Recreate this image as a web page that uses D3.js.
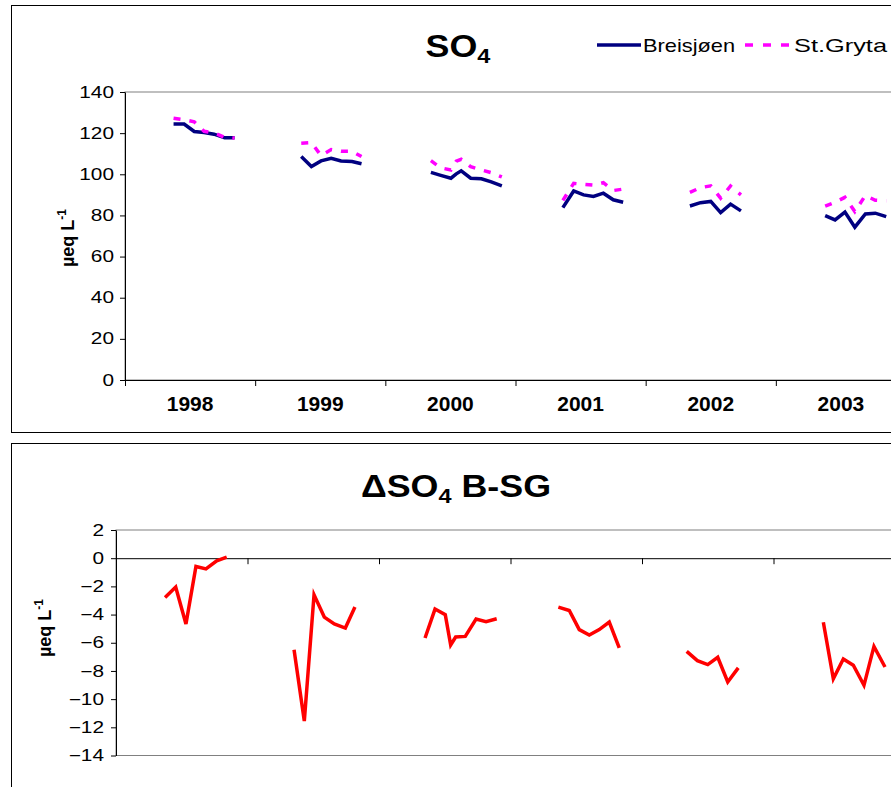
<!DOCTYPE html>
<html>
<head>
<meta charset="utf-8">
<script src="https://cdn.jsdelivr.net/npm/d3@7"></script>
<style>
body { margin: 0; background: #fff; }
svg { display: block; font-family: "Liberation Sans", Arial, sans-serif; }
</style>
</head>
<body>
<div id="chart"></div>
<script>
let years = ["1998", "1999", "2000", "2001", "2002", "2003"];
let sampleDates = [
    1998.373, 1998.454, 1998.532, 1998.608, 1998.684, 1998.766, 1998.842,
    1999.354, 1999.432, 1999.506, 1999.584, 1999.660, 1999.744, 1999.817,
    2000.350, 2000.426, 2000.504, 2000.545, 2000.583, 2000.656, 2000.738, 2000.814, 2000.895,
    2001.364, 2001.447, 2001.523, 2001.599, 2001.675, 2001.751, 2001.827,
    2002.340, 2002.421, 2002.500, 2002.576, 2002.652, 2002.732,
    2003.379, 2003.455, 2003.531, 2003.607, 2003.688, 2003.764, 2003.848
];
let breisjoen = [
    124.4, 124.4, 120.8, 120.3, 119.5, 117.7, 117.7,
    108.6, 103.8, 106.5, 107.8, 106.5, 106.2, 105.1,
    100.9, 99.5, 98.1, 100.2, 101.7, 98.1, 97.8, 96.3, 94.4,
    83.8, 91.9, 90.0, 89.2, 90.8, 87.6, 86.4,
    84.6, 86.2, 86.8, 81.4, 85.5, 82.2,
    79.9, 77.8, 81.6, 74.3, 80.7, 81.1, 79.4
];
let stGryta = [
    127.2, 126.5, 125.5, 120.9, 120.2, 117.9, 117.6,
    115.1, 115.4, 109.1, 112.0, 111.2, 111.2, 108.6,
    106.6, 103.1, 102.1, 106.4, 107.3, 103.7, 102.1, 100.8, 98.7,
    87.3, 95.6, 95.1, 94.7, 95.9, 92.1, 92.8,
    91.2, 93.5, 94.4, 88.4, 94.3, 90.0,
    84.5, 86.4, 88.8, 81.9, 89.7, 87.4, 87.1
];
let deltaSO4 = [
    -2.79, -2.05, -4.67, -0.59, -0.76, -0.19, 0.07,
    -6.49, -11.56, -2.60, -4.18, -4.67, -4.96, -3.47,
    -5.66, -3.61, -4.01, -6.16, -5.59, -5.55, -4.32, -4.51, -4.30,
    -3.47, -3.71, -5.07, -5.45, -5.07, -4.53, -6.37,
    -6.61, -7.27, -7.55, -7.03, -8.78, -7.78,
    -4.55, -8.56, -7.15, -7.60, -9.02, -6.26, -7.72
];
let so4Ticks = [0, 20, 40, 60, 80, 100, 120, 140];
let deltaTicks = [2, 0, -2, -4, -6, -8, -10, -12, -14];

let svgWidth = 891;
let svgHeight = 787;

let svg = d3.select("#chart")
    .append("svg")
    .attr("width", svgWidth)
    .attr("height", svgHeight);

let rows = sampleDates.map((t, i) => ({
    t: t,
    year: Math.floor(t),
    b: breisjoen[i],
    sg: stGryta[i],
    d: deltaSO4[i]
}));
let byYear = Array.from(d3.group(rows, r => r.year).values());

// text in the picture is a bit wider than plain Arial
function place(sel, x, y, sx) {
    return sel.attr("transform", `translate(${x},${y}) scale(${sx},1)`);
}

// panel frames
svg.append("rect")
    .attr("x", 11.5).attr("y", 5.5)
    .attr("width", 920).attr("height", 427)
    .attr("fill", "none").attr("stroke", "#000");
svg.append("rect")
    .attr("x", 11.5).attr("y", 443.5)
    .attr("width", 920).attr("height", 400)
    .attr("fill", "none").attr("stroke", "#000");

// ---------- top chart: SO4 ----------
let x1 = d3.scaleLinear().domain([1998, 2004]).range([125, 906]);
let y1 = d3.scaleLinear().domain([0, 140]).range([380, 92]);

svg.append("rect")
    .attr("x", x1(1998)).attr("y", y1(140))
    .attr("width", x1(2004) - x1(1998)).attr("height", y1(0) - y1(140))
    .attr("fill", "none").attr("stroke", "#808080");

let leftAxis1 = svg.append("g")
    .attr("transform", `translate(${x1(1998)},0)`)
    .call(d3.axisLeft(y1).tickValues(so4Ticks).tickSizeInner(5).tickSizeOuter(0));
leftAxis1.selectAll("text")
    .attr("font-size", 16).attr("font-family", "Liberation Sans, Arial")
    .attr("fill", "#000")
    .attr("x", -11 / 1.3).attr("transform", "scale(1.3,1)");

svg.append("g")
    .attr("transform", `translate(0,${y1(0)})`)
    .call(d3.axisBottom(x1).tickValues(d3.range(1998, 2005)).tickFormat("").tickSizeInner(6).tickSizeOuter(0));

svg.append("g").selectAll("text")
    .data(years)
    .enter()
    .append("text")
    .attr("text-anchor", "middle")
    .attr("font-size", 20)
    .attr("font-weight", "bold")
    .attr("transform", d => `translate(${x1(+d + 0.5)},411) scale(1.05,1)`)
    .text(d => d);

let line1b = d3.line().x(d => x1(d.t)).y(d => y1(d.b));
let line1s = d3.line().x(d => x1(d.t)).y(d => y1(d.sg));

svg.append("g").selectAll("path")
    .data(byYear)
    .enter()
    .append("path")
    .attr("d", line1b)
    .attr("fill", "none")
    .attr("stroke", "#000080")
    .attr("stroke-width", 3.5);

svg.append("g").selectAll("path")
    .data(byYear)
    .enter()
    .append("path")
    .attr("d", line1s)
    .attr("fill", "none")
    .attr("stroke", "#ff00ff")
    .attr("stroke-width", 3.5)
    .attr("stroke-dasharray", "7,9");

// title
let t1 = svg.append("text")
    .attr("font-size", 32)
    .attr("font-weight", "bold")
    .attr("text-anchor", "middle");
place(t1, 458, 57, 1.12);
t1.append("tspan").text("SO");
t1.append("tspan").attr("font-size", 21).attr("dy", 6).text("4");

// legend
svg.append("line")
    .attr("x1", 597).attr("x2", 641).attr("y1", 45).attr("y2", 45)
    .attr("stroke", "#000080").attr("stroke-width", 3.5);
svg.append("text").attr("x", 643).attr("y", 52).attr("font-size", 19)
    .attr("textLength", 92).attr("lengthAdjust", "spacingAndGlyphs")
    .text("Breisjøen");
svg.append("line")
    .attr("x1", 745).attr("x2", 792).attr("y1", 45).attr("y2", 45)
    .attr("stroke", "#ff00ff").attr("stroke-width", 3.5)
    .attr("stroke-dasharray", "8,10");
svg.append("text").attr("x", 794).attr("y", 52).attr("font-size", 19)
    .attr("textLength", 93).attr("lengthAdjust", "spacingAndGlyphs")
    .text("St.Gryta");

// y label
let yl1 = svg.append("text")
    .attr("font-size", 18)
    .attr("font-weight", "bold")
    .attr("text-anchor", "middle")
    .attr("transform", "translate(74,238) rotate(-90)");
yl1.append("tspan").text("µeq L");
yl1.append("tspan").attr("font-size", 12).attr("dy", -8).text("-1");

// ---------- bottom chart: delta SO4 ----------
let x2 = d3.scaleLinear().domain([1998, 2004]).range([116, 905]);
let y2 = d3.scaleLinear().domain([-14, 2]).range([755.5, 530]);

svg.append("rect")
    .attr("x", x2(1998)).attr("y", y2(2))
    .attr("width", x2(2004) - x2(1998)).attr("height", y2(-14) - y2(2))
    .attr("fill", "none").attr("stroke", "#808080");

let leftAxis2 = svg.append("g")
    .attr("transform", `translate(${x2(1998)},0)`)
    .call(d3.axisLeft(y2).tickValues(deltaTicks).tickSizeInner(5).tickSizeOuter(0));
leftAxis2.selectAll("text")
    .attr("font-size", 16).attr("font-family", "Liberation Sans, Arial")
    .attr("fill", "#000")
    .attr("x", -12 / 1.3).attr("transform", "scale(1.3,1)");

svg.append("g")
    .attr("transform", `translate(0,${y2(0)})`)
    .call(d3.axisBottom(x2).tickValues(d3.range(1998, 2005)).tickFormat("").tickSizeInner(6).tickSizeOuter(0));
svg.selectAll("g.tick line, .domain").attr("stroke", "#000");

let line2 = d3.line().x(d => x2(d.t)).y(d => y2(d.d));
svg.append("g").selectAll("path")
    .data(byYear)
    .enter()
    .append("path")
    .attr("d", line2)
    .attr("fill", "none")
    .attr("stroke", "#ff0000")
    .attr("stroke-width", 3.5);

let t2 = svg.append("text")
    .attr("font-size", 32)
    .attr("font-weight", "bold")
    .attr("text-anchor", "middle");
place(t2, 456, 497, 1.12);
t2.append("tspan").text("ΔSO");
t2.append("tspan").attr("font-size", 21).attr("dy", 6).text("4");
t2.append("tspan").attr("dy", -6).text(" B-SG");

let yl2 = svg.append("text")
    .attr("font-size", 18)
    .attr("font-weight", "bold")
    .attr("text-anchor", "middle")
    .attr("transform", "translate(51,628) rotate(-90)");
yl2.append("tspan").text("µeq L");
yl2.append("tspan").attr("font-size", 12).attr("dy", -8).text("-1");
</script>
</body>
</html>
